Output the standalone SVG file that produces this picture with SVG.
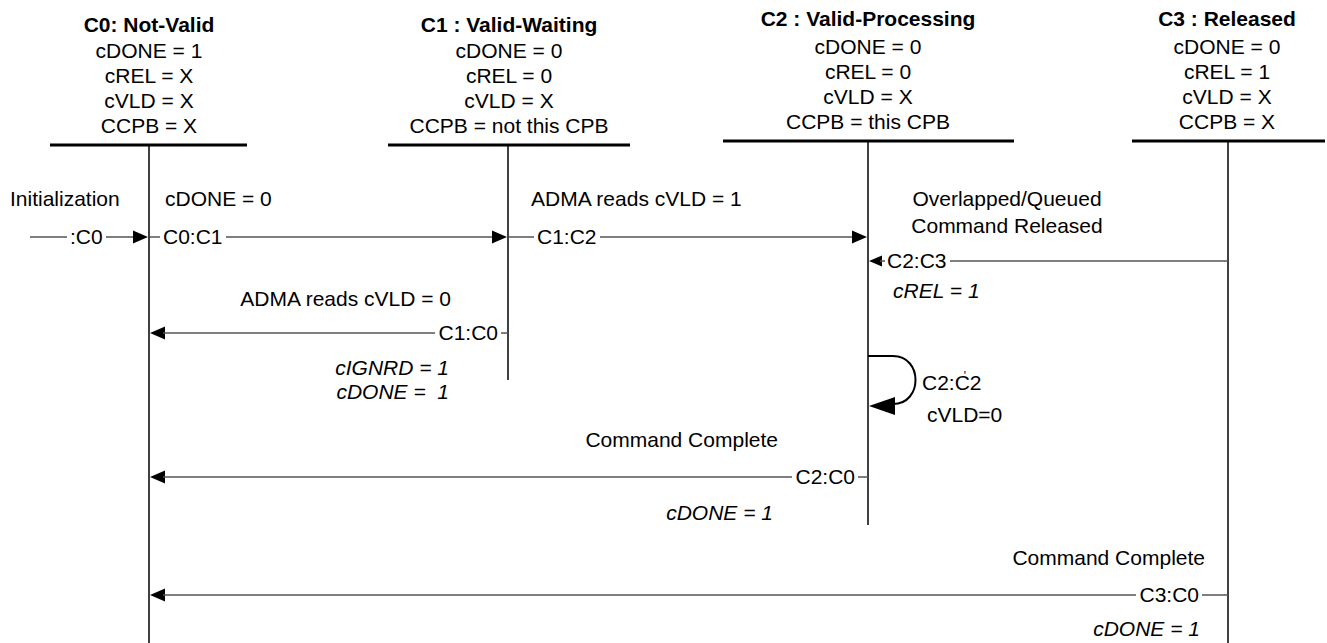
<svg xmlns="http://www.w3.org/2000/svg" width="1327" height="643" viewBox="0 0 1327 643">
<defs>
<style>
text{font-family:"Liberation Sans",Arial,Helvetica,sans-serif;font-size:21px;fill:#000;white-space:pre}
.t{font-weight:bold}
.m{text-anchor:middle}
.e{text-anchor:end}
.i{font-style:italic}
.bar{stroke:#000;stroke-width:3;fill:none}
.life{stroke:#000;stroke-width:1.5;fill:none}
.msg{stroke:#555;stroke-width:1.5;fill:none}
.head{fill:#000;stroke:none}
</style>
</defs>
<rect width="1327" height="643" fill="#fff"/>

<g id="C0">
<text class="t m" x="149" y="32">C0: Not-Valid</text>
<text class="m" x="149" y="58">cDONE = 1</text>
<text class="m" x="149" y="83">cREL = X</text>
<text class="m" x="149" y="108">cVLD = X</text>
<text class="m" x="149" y="133">CCPB = X</text>
<line class="bar" x1="50" y1="145" x2="247" y2="145"/>
<line class="life" x1="149" y1="145" x2="149" y2="643"/>
</g>

<g id="C1">
<text class="t m" x="509" y="32">C1 : Valid-Waiting</text>
<text class="m" x="509" y="58">cDONE = 0</text>
<text class="m" x="509" y="83">cREL = 0</text>
<text class="m" x="509" y="108">cVLD = X</text>
<text class="m" x="509" y="133">CCPB = not this CPB</text>
<line class="bar" x1="388" y1="145" x2="630" y2="145"/>
<line class="life" x1="508" y1="145" x2="508" y2="380" stroke-width="2"/>
</g>

<g id="C2">
<text class="t m" x="868" y="26">C2 : Valid-Processing</text>
<text class="m" x="868" y="54">cDONE = 0</text>
<text class="m" x="868" y="79">cREL = 0</text>
<text class="m" x="868" y="104">cVLD = X</text>
<text class="m" x="868" y="129">CCPB = this CPB</text>
<line class="bar" x1="723" y1="141" x2="1014" y2="141"/>
<line class="life" x1="868" y1="141" x2="868" y2="525"/>
</g>

<g id="C3">
<text class="t m" x="1227" y="26">C3 : Released</text>
<text class="m" x="1227" y="54">cDONE = 0</text>
<text class="m" x="1227" y="79">cREL = 1</text>
<text class="m" x="1227" y="104">cVLD = X</text>
<text class="m" x="1227" y="129">CCPB = X</text>
<line class="bar" x1="1132" y1="141" x2="1325" y2="141"/>
<line class="life" x1="1228" y1="141" x2="1228" y2="643"/>
</g>

<g id="connectors">
<!-- :C0 initialization -->
<line class="msg" x1="30" y1="237" x2="67" y2="237"/>
<line class="msg" x1="106" y1="237" x2="135" y2="237"/>
<polygon class="head" points="148,237 133,230.5 133,243.5"/>
<!-- C0:C1 -->
<line class="msg" x1="150" y1="237" x2="160" y2="237"/>
<line class="msg" x1="226" y1="237" x2="494" y2="237"/>
<polygon class="head" points="507,237 492,230.5 492,243.5"/>
<!-- C1:C2 -->
<line class="msg" x1="509" y1="237" x2="534" y2="237"/>
<line class="msg" x1="600" y1="237" x2="854" y2="237"/>
<polygon class="head" points="867,237 852,230.5 852,243.5"/>
<!-- C2:C3 -->
<polygon class="head" points="869,261 882,255.5 882,266.5"/>
<line class="msg" x1="880" y1="261" x2="885" y2="261"/>
<line class="msg" x1="950" y1="261" x2="1228" y2="261"/>
<!-- C1:C0 -->
<polygon class="head" points="150,333 165,326.5 165,339.5"/>
<line class="msg" x1="163" y1="333" x2="435" y2="333"/>
<line class="msg" x1="501" y1="333" x2="508" y2="333"/>
<!-- C2:C2 self loop -->
<path d="M868,356 H893 C923,356 923,404 893,404 H888" fill="none" stroke="#000" stroke-width="2"/>
<polygon class="head" points="869,406 895,397 895,415"/>
<!-- C2:C0 -->
<polygon class="head" points="150,477 165,470.5 165,483.5"/>
<line class="msg" x1="163" y1="477" x2="792" y2="477"/>
<line class="msg" x1="858" y1="477" x2="868" y2="477"/>
<!-- C3:C0 -->
<polygon class="head" points="150,595 165,588.5 165,601.5"/>
<line class="msg" x1="163" y1="595" x2="1136" y2="595"/>
<line class="msg" x1="1202" y1="595" x2="1228" y2="595"/>
</g>

<g id="labels">
<text x="10" y="206">Initialization</text>
<text x="70" y="244">:C0</text>
<text x="165" y="206">cDONE = 0</text>
<text x="163" y="244">C0:C1</text>
<text x="531" y="206">ADMA reads cVLD = 1</text>
<text x="537" y="244">C1:C2</text>
<text class="m" x="1007" y="206">Overlapped/Queued</text>
<text class="m" x="1007" y="233">Command Released</text>
<text x="887" y="268">C2:C3</text>
<text class="i" x="893" y="298">cREL = 1</text>
<text class="e" x="451" y="306">ADMA reads cVLD = 0</text>
<text class="e" x="498" y="340">C1:C0</text>
<text class="e i" x="449" y="375">cIGNRD = 1</text>
<text class="e i" x="449" y="399">cDONE =  1</text>
<text x="922" y="390">C2:C<tspan dx="-6" dy="-10" font-size="12">'</tspan><tspan dx="3.7" dy="10">2</tspan></text>
<text x="927" y="422">cVLD=0</text>
<text class="e" x="778" y="447">Command Complete</text>
<text class="e" x="855" y="484">C2:C0</text>
<text class="e i" x="773" y="520">cDONE = 1</text>
<text class="e" x="1205" y="565">Command Complete</text>
<text class="e" x="1199" y="602">C3:C0</text>
<text class="e i" x="1200" y="636">cDONE = 1</text>
</g>
</svg>
